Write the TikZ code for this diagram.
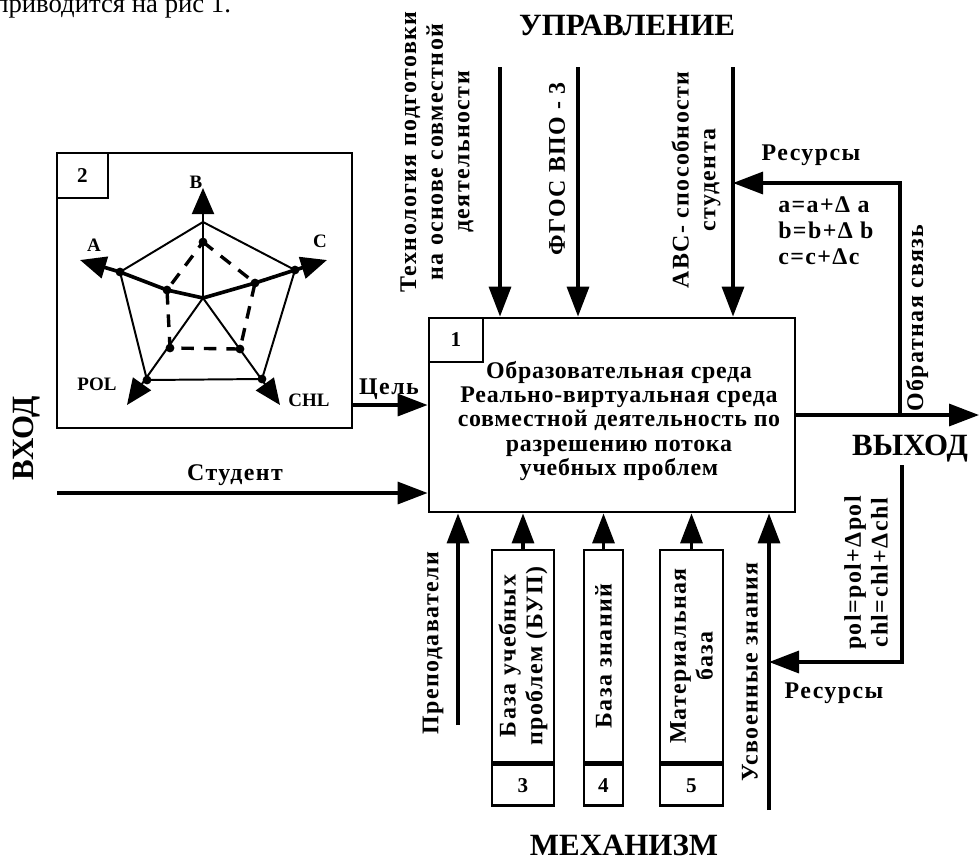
\documentclass[tikz,border=0pt]{standalone}
\usepackage{fontspec}
\setmainfont{Liberation Serif}
\usetikzlibrary{arrows.meta,positioning}
\newcommand{\lblfont}{\fontsize{17}{19}\selectfont\bfseries\addfontfeatures{LetterSpace=6}}
\newcommand{\envfont}{\fontsize{17}{17.3}\selectfont\bfseries\addfontfeatures{LetterSpace=3}}
\newcommand{\titlefont}{\fontsize{22}{24}\selectfont\bfseries}
\newcommand{\tagfont}{\fontsize{15}{17}\selectfont\bfseries}
\newcommand{\axfont}{\fontsize{13.5}{15}\selectfont\bfseries}

\begin{document}
\begin{tikzpicture}[x=0.25mm, y=-0.25mm, font=\lblfont,
    box/.style={draw, line width=2pt, inner sep=0pt},
    tag/.style={draw, line width=2pt, inner sep=0pt, anchor=north west, font=\tagfont},
    arrow/.style={-{Triangle[length=7.5mm, width=5.5mm]}, line width=2.4pt},
    axis/.style={-{Triangle[length=6.5mm, width=5.5mm]}, line width=1.4pt},
    vlabel/.style={rotate=90, align=center, inner sep=0pt},
    title/.style={font=\titlefont, inner sep=0pt},
    dot/.style={circle, fill, inner sep=0pt, minimum size=2.2mm}]
    \useasboundingbox (0,0) rectangle (979,860);

    \node[anchor=base west, inner sep=0pt, font=\fontsize{19}{21}\selectfont] (capt) at (-6,12) {приводится на рис 1.};

    % titles
    \node[title, anchor=base] (upr) at (627,35) {УПРАВЛЕНИЕ};
    \node[title, rotate=90] (vhod) at (27,438) {ВХОД};
    \node[title, anchor=base] (vyhod) at (910,455) {ВЫХОД};
    \node[title, anchor=base] (mech) at (624,855) {МЕХАНИЗМ};

    % function block
    \node[box, minimum width=91.5mm, minimum height=48.5mm] (env) at (612,415) {};
    \node[tag, minimum width=13.5mm, minimum height=11mm] (n1) at (env.north west) {1};
    \node[align=center, font=\envfont, inner sep=0pt] (envtxt) at (619,421)
        {Образовательная среда\\ Реально-виртуальная среда\\совместной деятельность по\\разрешению потока\\учебных проблем};

    % goal box with the radar
    \node[box, minimum width=73.75mm, minimum height=68.75mm] (goal) at (204.5,290.5) {};
    \node[tag, minimum width=12.75mm, minimum height=11.25mm] (n2) at (goal.north west) {2};

    \coordinate (cen) at (203,298);
    \coordinate (vB) at (203,222);
    \coordinate (vA) at (120,272);
    \coordinate (vC) at (295,270);
    \coordinate (vP) at (147,380);
    \coordinate (vH) at (262,379);
    \coordinate (dB) at (203,242);
    \coordinate (dA) at (167,290);
    \coordinate (dC) at (255,283);
    \coordinate (dP) at (170,348);
    \coordinate (dH) at (240,349);
    \coordinate (tB) at (203,188);
    \coordinate (tA) at (80,260);
    \coordinate (tC) at (327,260);
    \coordinate (tP) at (127,405);
    \coordinate (tH) at (280,405);

    \draw[line width=1.4pt, line join=round] (vB) -- (vA) -- (vP) -- (vH) -- (vC) -- cycle;
    \draw[axis] (cen) -- (tB);
    \draw[axis] (cen) -- (tP);
    \draw[axis] (cen) -- (tH);
    \draw[line width=2.6pt, line join=round] (vA) -- (dA) -- (cen) -- (dC) -- (vC);
    \draw[axis, line width=2.6pt] (vA) -- (tA);
    \draw[axis, line width=2.6pt] (vC) -- (tC);
    \draw[line width=2.4pt, dash pattern=on 9pt off 7pt] (dB) -- (dC) -- (dH) -- (dP) -- (dA) -- cycle;
    \foreach \p in {vA,vC,dA,dB,dC,dP,dH,vP,vH}
        \node[dot] at (\p) {};

    \node[font=\axfont, inner sep=0pt] (lB) at (196,182) {B};
    \node[font=\axfont, inner sep=0pt] (lA) at (94,245) {A};
    \node[font=\axfont, inner sep=0pt] (lC) at (320,241) {C};
    \node[font=\axfont, inner sep=0pt] (lP) at (97,384) {POL};
    \node[font=\axfont, inner sep=0pt] (lH) at (309,400) {CHL};

    % inputs
    \coordinate (goalout) at (352,405);
    \coordinate (studin) at (57,493);
    \draw[arrow] (goalout) -- (goalout -| env.west);
    \draw[arrow] (studin) -- (studin -| env.west);
    \node[inner sep=0pt] (goallbl) at (389,389) {Цель};
    \node[inner sep=0pt, anchor=base] (studlbl) at (235,480) {Студент};

    % controls
    \coordinate (c1) at (500,67);
    \coordinate (c2) at (578,67);
    \coordinate (c3) at (733,67);
    \draw[arrow] (c1) -- (c1 |- env.north);
    \draw[arrow] (c2) -- (c2 |- env.north);
    \draw[arrow] (c3) -- (c3 |- env.north);
    \node[vlabel] (techlbl) at (437,152) {Технология подготовки\\на основе совместной\\деятельности};
    \node[vlabel] (fgoslbl) at (557,169) {ФГОС ВПО - 3};
    \node[vlabel] (abclbl) at (696,180) {ABC- способности\\студента};

    % output and feedback
    \coordinate (outend) at (979,415);
    \coordinate (fb1) at (900,415);
    \coordinate (res1) at (733,183);
    \coordinate (fb2) at (902,465);
    \coordinate (res2) at (769,662);
    \draw[arrow] (env.east) -- (outend);
    \draw[arrow] (fb1) |- (res1);
    \draw[arrow] (fb2) |- (res2);
    \node[inner sep=0pt] (res1lbl) at (811,155) {Ресурсы};
    \node[inner sep=0pt, anchor=north west, align=left, font=\fontsize{17}{18.8}\selectfont\bfseries\addfontfeatures{LetterSpace=6}] (abceq) at (778,196) {a=a+Δ a\\b=b+Δ b\\c=c+Δc};
    \node[vlabel] (fblbl) at (917,318) {Обратная связь};
    \node[vlabel] (poleq) at (866,573) {pol=pol+Δpol\\chl=chl+Δchl};
    \node[inner sep=0pt] (res2lbl) at (834,693) {Ресурсы};

    % mechanisms
    \coordinate (prep) at (458,725);
    \coordinate (usv) at (769,810);
    \draw[arrow] (prep) -- (prep |- env.south);
    \draw[arrow] (usv) -- (usv |- env.south);
    \node[vlabel] (preplbl) at (433,643) {Преподаватели};
    \node[vlabel] (usvlbl) at (750,672) {Усвоенные знания};

    \node[box, vlabel, minimum width=53mm, minimum height=15.5mm] (bup) at (523,656) {База учебных\\проблем (БУП)};
    \node[box, minimum width=15.5mm, minimum height=10.25mm, anchor=north, font=\tagfont] (n3) at (bup.west) {3};
    \node[box, vlabel, minimum width=53mm, minimum height=9.75mm] (know) at (603.5,656) {База знаний};
    \node[box, minimum width=9.75mm, minimum height=10.25mm, anchor=north, font=\tagfont] (n4) at (know.west) {4};
    \node[box, vlabel, minimum width=53mm, minimum height=15.75mm] (mat) at (691.5,656) {Материальная\\база};
    \node[box, minimum width=15.75mm, minimum height=10.25mm, anchor=north, font=\tagfont] (n5) at (mat.west) {5};
    \draw[arrow] (bup.east) -- (bup.east |- env.south);
    \draw[arrow] (know.east) -- (know.east |- env.south);
    \draw[arrow] (mat.east) -- (mat.east |- env.south);
\end{tikzpicture}
\end{document}
